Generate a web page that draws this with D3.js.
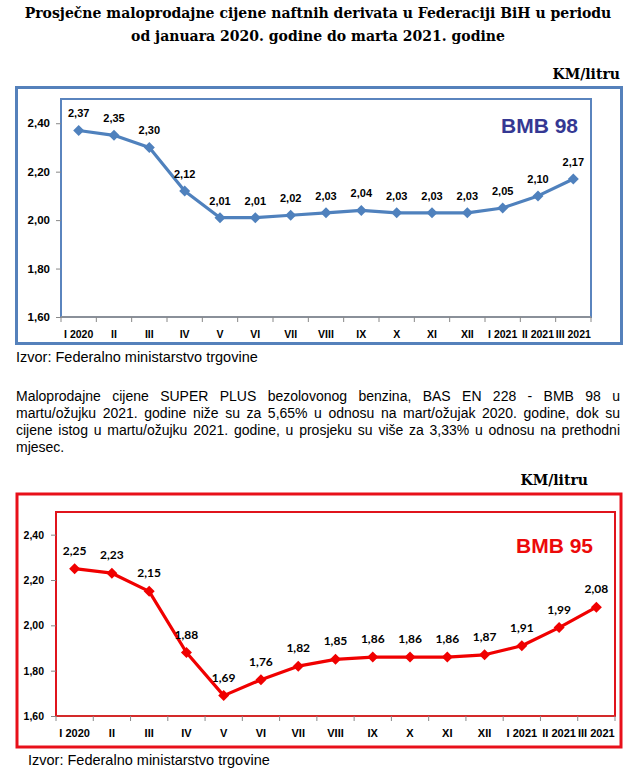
<!DOCTYPE html>
<html>
<head>
<meta charset="utf-8">
<script src="https://cdn.jsdelivr.net/npm/d3@7"></script>
<style>
body { margin: 0; background: #fff; }
svg { display: block; }
</style>
</head>
<body>
<svg id="page" width="637" height="779"></svg>
<script>
// Data
var months = ["I 2020", "II", "III", "IV", "V", "VI", "VII", "VIII", "IX", "X", "XI", "XII", "I 2021", "II 2021", "III 2021"]
var bmb98 = [2.37, 2.35, 2.30, 2.12, 2.01, 2.01, 2.02, 2.03, 2.04, 2.03, 2.03, 2.03, 2.05, 2.10, 2.17]
var bmb95 = [2.25, 2.23, 2.15, 1.88, 1.69, 1.76, 1.82, 1.85, 1.86, 1.86, 1.86, 1.87, 1.91, 1.99, 2.08]
var yTicks = [1.6, 1.8, 2.0, 2.2, 2.4]
var yDomain = [1.6, 2.5]

// Texts
var titleLines = ["Prosječne maloprodajne cijene naftnih derivata u Federaciji BiH u periodu",
                  "od januara 2020. godine do marta 2021. godine"]
var unitText = "KM/litru"
var sourceText = "Izvor: Federalno ministarstvo trgovine"
var paragraphLines = ["Maloprodajne cijene SUPER PLUS bezolovonog benzina, BAS EN 228 - BMB 98 u",
                      "martu/ožujku 2021. godine niže su za 5,65% u odnosu na mart/ožujak 2020. godine, dok su",
                      "cijene istog u martu/ožujku 2021. godine, u prosjeku su više za 3,33% u odnosu na prethodni",
                      "mjesec."]

const svg = d3.select("#page")
const fmt = v => v.toFixed(2).replace(".", ",")

// Title, fitted to the width it has in the reference
const titleFont = "'DejaVu Serif', serif"
const title = svg.append("g")
title.selectAll("text")
    .data(titleLines)
    .enter().append("text")
    .attr("x", 318)
    .attr("y", (d, i) => 18 + i * 23)
    .attr("text-anchor", "middle")
    .attr("font-family", titleFont)
    .attr("font-weight", "bold")
    .attr("font-size", 100)
    .text(d => d)
const w100 = title.select("text").node().getComputedTextLength()
const titleSize = 100 * 587 / w100
title.selectAll("text").attr("font-size", titleSize)

function drawChart(cfg) {
    const g = svg.append("g")

    // unit label above the box
    g.append("text")
    .attr("x", cfg.unitX)
    .attr("y", cfg.box.y - 9)
    .attr("text-anchor", "end")
    .attr("font-family", titleFont)
    .attr("font-weight", "bold")
    .attr("font-size", titleSize)
    .text(unitText)

    // outer frame
    g.append("rect")
    .attr("x", cfg.box.x)
    .attr("y", cfg.box.y)
    .attr("width", cfg.box.w)
    .attr("height", cfg.box.h)
    .attr("fill", "none")
    .attr("stroke", cfg.frame)
    .attr("stroke-width", 3)

    const x = d3.scaleBand()
    .domain(months)
    .range([cfg.plot.left, cfg.plot.right])

    const y = d3.scaleLinear()
    .domain(yDomain)
    .range([cfg.plot.bottom, cfg.plot.top])

    // plot area border
    g.append("rect")
    .attr("x", cfg.plot.left)
    .attr("y", cfg.plot.top)
    .attr("width", cfg.plot.right - cfg.plot.left)
    .attr("height", cfg.plot.bottom - cfg.plot.top)
    .attr("fill", "none")
    .attr("stroke", cfg.plotBorder)
    .attr("stroke-width", 2)

    // y axis
    const yAxis = g.append("g")
    .attr("transform", `translate(${cfg.plot.left},0)`)
    .call(d3.axisLeft(y).tickValues(yTicks).tickSize(5).tickPadding(cfg.yPad).tickFormat(fmt))
    yAxis.select(".domain").remove()
    yAxis.selectAll("line").attr("stroke", "#888")
    yAxis.selectAll("text")
    .attr("font-family", "'Liberation Sans', Arial, sans-serif")
    .attr("font-weight", "bold")
    .attr("font-size", cfg.yFont)
    .attr("fill", "#000")

    // x axis: ticks on the category borders
    const xAxis = g.append("g")
    .attr("transform", `translate(0,${cfg.plot.bottom})`)
    xAxis.append("line")
    .attr("x1", cfg.plot.left).attr("x2", cfg.plot.right)
    .attr("stroke", cfg.axisColor).attr("stroke-width", 2)
    const borders = months.map(m => x(m)).concat([cfg.plot.right])
    xAxis.selectAll(".tk")
    .data(borders)
    .enter().append("line")
    .attr("x1", d => d).attr("x2", d => d)
    .attr("y1", 0).attr("y2", 5)
    .attr("stroke", "#888")
    xAxis.selectAll(".lbl")
    .data(months)
    .enter().append("text")
    .attr("x", d => x(d) + x.bandwidth() / 2)
    .attr("y", cfg.xLabelDy)
    .attr("text-anchor", "middle")
    .attr("font-family", "'Liberation Sans', Arial, sans-serif")
    .attr("font-weight", "bold")
    .attr("font-size", cfg.xFont)
    .text(d => d)

    // series name
    g.append("text")
    .attr("x", cfg.nameX)
    .attr("y", cfg.nameY)
    .attr("text-anchor", "end")
    .attr("font-family", "'Liberation Sans', Arial, sans-serif")
    .attr("font-weight", "bold")
    .attr("font-size", 21)
    .attr("fill", cfg.nameColor)
    .text(cfg.name)

    const pts = months.map((m, i) => ({ m: m, v: cfg.values[i] }))
    const line = d3.line()
    .x(d => x(d.m) + x.bandwidth() / 2)
    .y(d => y(d.v))

    g.append("path")
    .datum(pts)
    .attr("d", line)
    .attr("fill", "none")
    .attr("stroke", cfg.lineColor)
    .attr("stroke-width", 3.2)
    .attr("stroke-linejoin", "round")

    // diamond markers
    g.selectAll(".mk")
    .data(pts)
    .enter().append("path")
    .attr("transform", d => `translate(${x(d.m) + x.bandwidth() / 2},${y(d.v)})`)
    .attr("d", "M0,-5.5L5.5,0L0,5.5L-5.5,0Z")
    .attr("fill", cfg.lineColor)

    // value labels
    g.selectAll(".vl")
    .data(pts)
    .enter().append("text")
    .attr("x", d => x(d.m) + x.bandwidth() / 2)
    .attr("y", d => y(d.v) - cfg.labelGap)
    .attr("text-anchor", "middle")
    .attr("font-family", cfg.labelFamily)
    .attr("font-weight", "bold")
    .attr("font-size", cfg.labelFont)
    .text(d => fmt(d.v))

    // source
    g.append("text")
    .attr("x", cfg.sourceX)
    .attr("y", cfg.box.y + cfg.box.h + 18)
    .attr("font-family", "'Liberation Sans', Arial, sans-serif")
    .attr("font-size", 14.5)
    .text(sourceText)
}

drawChart({
    values: bmb98,
    box: { x: 16.5, y: 87.5, w: 605, h: 256 },
    plot: { left: 61, top: 99, right: 591, bottom: 317 },
    frame: "#5581bb",
    plotBorder: "#5a84be",
    axisColor: "#8a9099",
    lineColor: "#4f81bd",
    nameColor: "#353893",
    name: "BMB 98",
    nameX: 578,
    nameY: 133,
    unitX: 620,
    yPad: 6,
    yFont: 11.5,
    xFont: 10.5,
    xLabelDy: 21,
    labelFamily: "'Liberation Sans', Arial, sans-serif",
    labelFont: 11,
    labelGap: 13,
    sourceX: 16
})

drawChart({
    values: bmb95,
    box: { x: 17, y: 494, w: 604, h: 253 },
    plot: { left: 56, top: 512, right: 615, bottom: 716 },
    frame: "#e8101a",
    plotBorder: "#e0141c",
    axisColor: "#d42a2a",
    lineColor: "#f00000",
    nameColor: "#ec0a0a",
    name: "BMB 95",
    nameX: 593,
    nameY: 553,
    unitX: 588,
    yPad: 7,
    yFont: 10.5,
    xFont: 11,
    xLabelDy: 21,
    labelFamily: "Lato, 'Open Sans', sans-serif",
    labelFont: 12,
    labelGap: 14,
    sourceX: 28
})

// justified paragraph between the charts
const para = svg.append("g")
    .attr("font-family", "'Liberation Sans', Arial, sans-serif")
    .attr("font-size", 14)
const paraLeft = 16, paraRight = 620
paragraphLines.forEach((ln, i) => {
    const words = ln.split(" ")
    const yy = 400.5 + i * 17.3
    const texts = words.map(w => para.append("text").attr("y", yy).text(w))
    const widths = texts.map(t => t.node().getComputedTextLength())
    const total = d3.sum(widths)
    const last = i === paragraphLines.length - 1
    const gap = (last || words.length < 2) ? 4 : (paraRight - paraLeft - total) / (words.length - 1)
    let cx = paraLeft
    texts.forEach((t, k) => {
        t.attr("x", cx)
        cx += widths[k] + gap
    })
})
</script>
</body>
</html>
